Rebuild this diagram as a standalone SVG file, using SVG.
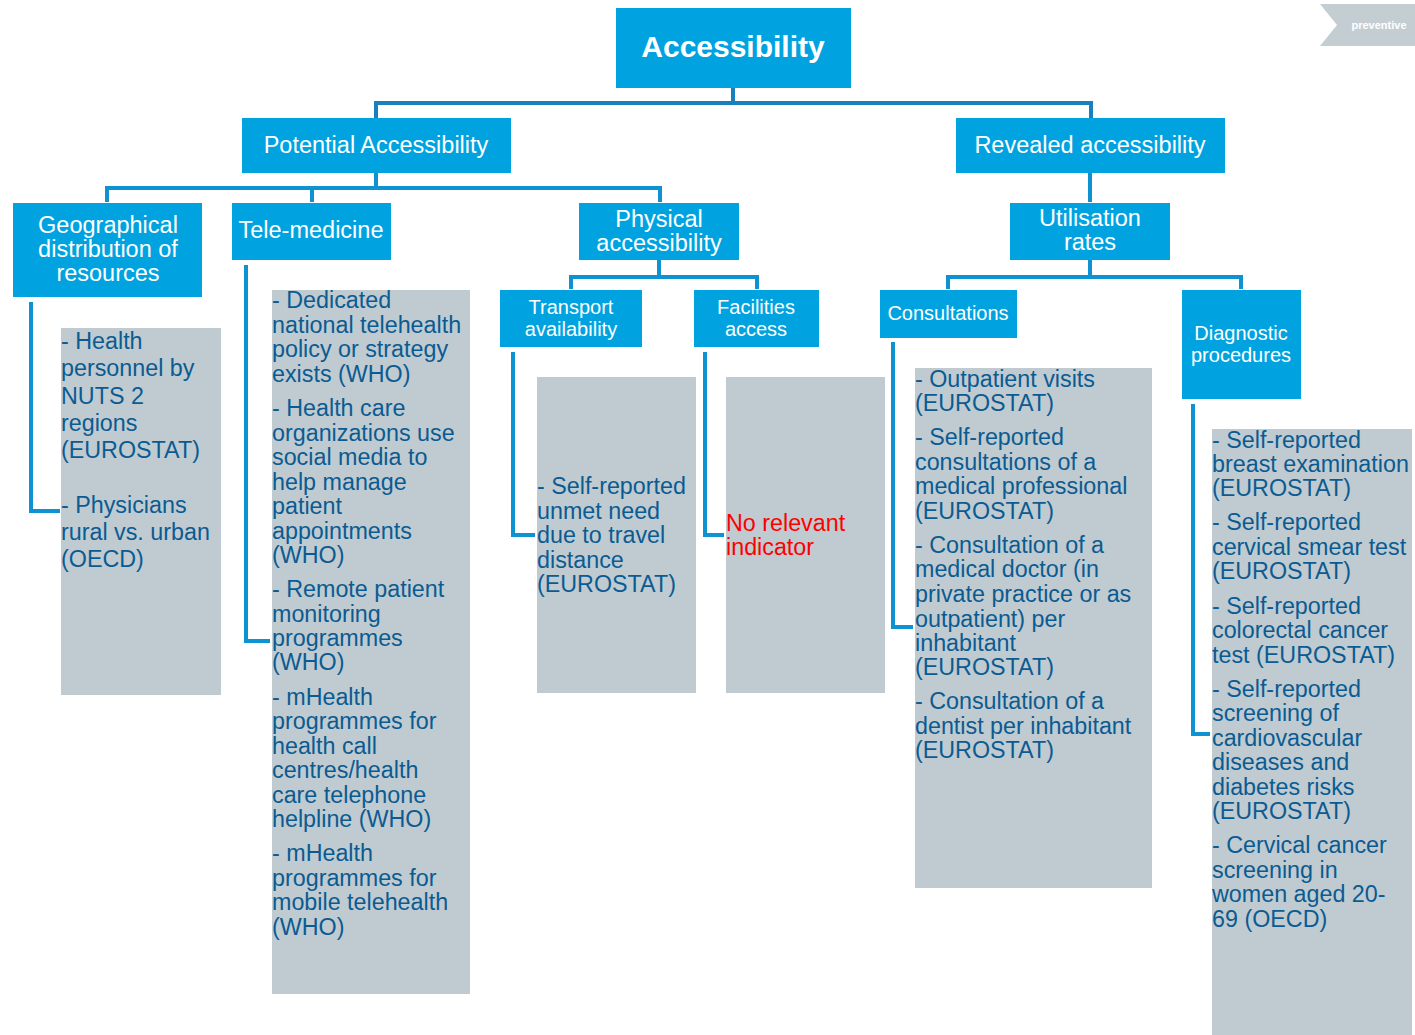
<svg xmlns="http://www.w3.org/2000/svg" width="1415" height="1035" viewBox="0 0 1415 1035">
<style>
.box{fill:#00a3e0;}
.lbl{font-family:"Liberation Sans",Arial,sans-serif;fill:#ffffff;text-anchor:middle;}
.l24{font-size:23.5px;}
.l20{font-size:20px;}
.grey{fill:#bfcbd0;}
.it{font-family:"Liberation Sans",Arial,sans-serif;font-size:23.3px;fill:#0b5b92;}
.red{fill:#ff0000;}
.con{fill:none;stroke:#0e92d2;stroke-width:4;}
.con0{stroke:#1a7fbd;}
</style>
<rect width="1415" height="1035" fill="#ffffff"/>

<g id="preventive">
<polygon points="1320,4 1415,4 1415,46 1320,46 1337,25" fill="#c4ced2"/>
<text x="1379" y="29" font-family="Liberation Sans,Arial,sans-serif" font-size="11" font-weight="bold" fill="#ffffff" text-anchor="middle">preventive</text>
</g>

<g id="connectors">
<path class="con con0" d="M733,88 V103 M376,118 V103 H1091 V118"/>
<path class="con" d="M376,173 V188 M107,202 V188 H660 V202 M312,188 V202"/>
<path class="con" d="M1090,173 V202"/>
<path class="con" d="M659,260 V277 M571,289 V277 H757 V289"/>
<path class="con" d="M1090,260 V277 M948,289 V277 H1241 V289"/>
<path class="con" d="M31,302 V511 H60"/>
<path class="con" d="M246,265 V641 H270"/>
<path class="con" d="M513,352 V535 H535"/>
<path class="con" d="M705,352 V535 H724"/>
<path class="con" d="M893,342 V627 H913"/>
<path class="con" d="M1193,404 V734 H1210"/>
</g>

<g id="accessibility">
<rect class="box" x="616" y="8" width="235" height="80"/>
<text class="lbl" x="733" y="57" font-size="30" font-weight="bold">Accessibility</text>
</g>
<g id="potential">
<rect class="box" x="242" y="118" width="269" height="55"/>
<text class="lbl l24" x="376" y="153">Potential Accessibility</text>
</g>
<g id="revealed">
<rect class="box" x="956" y="118" width="269" height="55"/>
<text class="lbl l24" x="1090" y="153">Revealed accessibility</text>
</g>
<g id="geographical">
<rect class="box" x="13" y="203" width="189" height="94"/>
<text class="lbl l24" x="108" y="233">Geographical</text>
<text class="lbl l24" x="108" y="257">distribution of</text>
<text class="lbl l24" x="108" y="281">resources</text>
</g>
<g id="telemedicine">
<rect class="box" x="232" y="203" width="159" height="57"/>
<text class="lbl l24" x="311" y="238">Tele-medicine</text>
</g>
<g id="physical">
<rect class="box" x="579" y="203" width="160" height="57"/>
<text class="lbl l24" x="659" y="227">Physical</text>
<text class="lbl l24" x="659" y="251">accessibility</text>
</g>
<g id="utilisation">
<rect class="box" x="1010" y="203" width="160" height="57"/>
<text class="lbl l24" x="1090" y="226">Utilisation</text>
<text class="lbl l24" x="1090" y="250">rates</text>
</g>
<g id="transport">
<rect class="box" x="500" y="290" width="142" height="57"/>
<text class="lbl l20" x="571" y="314">Transport</text>
<text class="lbl l20" x="571" y="336">availability</text>
</g>
<g id="facilities">
<rect class="box" x="694" y="290" width="125" height="57"/>
<text class="lbl l20" x="756" y="314">Facilities</text>
<text class="lbl l20" x="756" y="336">access</text>
</g>
<g id="consultations">
<rect class="box" x="880" y="290" width="137" height="48"/>
<text class="lbl l20" x="948" y="320">Consultations</text>
</g>
<g id="diagnostic">
<rect class="box" x="1182" y="290" width="119" height="109"/>
<text class="lbl l20" x="1241" y="340">Diagnostic</text>
<text class="lbl l20" x="1241" y="362">procedures</text>
</g>

<g id="geo-indicators">
<rect class="grey" x="61" y="328" width="160" height="367"/>
<text class="it" x="61" y="349">- Health</text>
<text class="it" x="61" y="376">personnel by</text>
<text class="it" x="61" y="404">NUTS 2</text>
<text class="it" x="61" y="431">regions</text>
<text class="it" x="61" y="458">(EUROSTAT)</text>
<text class="it" x="61" y="513">- Physicians</text>
<text class="it" x="61" y="540">rural vs. urban</text>
<text class="it" x="61" y="567">(OECD)</text>
</g>

<g id="tele-indicators">
<rect class="grey" x="272" y="290" width="198" height="704"/>
<text class="it" x="272" y="308">- Dedicated</text>
<text class="it" x="272" y="333">national telehealth</text>
<text class="it" x="272" y="357">policy or strategy</text>
<text class="it" x="272" y="382">exists (WHO)</text>
<text class="it" x="272" y="416">- Health care</text>
<text class="it" x="272" y="441">organizations use</text>
<text class="it" x="272" y="465">social media to</text>
<text class="it" x="272" y="490">help manage</text>
<text class="it" x="272" y="514">patient</text>
<text class="it" x="272" y="539">appointments</text>
<text class="it" x="272" y="563">(WHO)</text>
<text class="it" x="272" y="597">- Remote patient</text>
<text class="it" x="272" y="622">monitoring</text>
<text class="it" x="272" y="646">programmes</text>
<text class="it" x="272" y="670">(WHO)</text>
<text class="it" x="272" y="705">- mHealth</text>
<text class="it" x="272" y="729">programmes for</text>
<text class="it" x="272" y="754">health call</text>
<text class="it" x="272" y="778">centres/health</text>
<text class="it" x="272" y="803">care telephone</text>
<text class="it" x="272" y="827">helpline (WHO)</text>
<text class="it" x="272" y="861">- mHealth</text>
<text class="it" x="272" y="886">programmes for</text>
<text class="it" x="272" y="910">mobile telehealth</text>
<text class="it" x="272" y="935">(WHO)</text>
</g>

<g id="transport-indicators">
<rect class="grey" x="537" y="377" width="159" height="316"/>
<text class="it" x="537" y="494">- Self-reported</text>
<text class="it" x="537" y="519">unmet need</text>
<text class="it" x="537" y="543">due to travel</text>
<text class="it" x="537" y="568">distance</text>
<text class="it" x="537" y="592">(EUROSTAT)</text>
</g>

<g id="facilities-indicators">
<rect class="grey" x="726" y="377" width="159" height="316"/>
<text class="it red" x="726" y="531">No relevant</text>
<text class="it red" x="726" y="555">indicator</text>
</g>

<g id="consult-indicators">
<rect class="grey" x="915" y="368" width="237" height="520"/>
<text class="it" x="915" y="387">- Outpatient visits</text>
<text class="it" x="915" y="411">(EUROSTAT)</text>
<text class="it" x="915" y="445">- Self-reported</text>
<text class="it" x="915" y="470">consultations of a</text>
<text class="it" x="915" y="494">medical professional</text>
<text class="it" x="915" y="519">(EUROSTAT)</text>
<text class="it" x="915" y="553">- Consultation of a</text>
<text class="it" x="915" y="577">medical doctor (in</text>
<text class="it" x="915" y="602">private practice or as</text>
<text class="it" x="915" y="627">outpatient) per</text>
<text class="it" x="915" y="651">inhabitant</text>
<text class="it" x="915" y="675">(EUROSTAT)</text>
<text class="it" x="915" y="709">- Consultation of a</text>
<text class="it" x="915" y="734">dentist per inhabitant</text>
<text class="it" x="915" y="758">(EUROSTAT)</text>
</g>

<g id="diagnostic-indicators">
<rect class="grey" x="1212" y="429" width="200" height="606"/>
<text class="it" x="1212" y="448">- Self-reported</text>
<text class="it" x="1212" y="472">breast examination</text>
<text class="it" x="1212" y="496">(EUROSTAT)</text>
<text class="it" x="1212" y="530">- Self-reported</text>
<text class="it" x="1212" y="555">cervical smear test</text>
<text class="it" x="1212" y="579">(EUROSTAT)</text>
<text class="it" x="1212" y="614">- Self-reported</text>
<text class="it" x="1212" y="638">colorectal cancer</text>
<text class="it" x="1212" y="663">test (EUROSTAT)</text>
<text class="it" x="1212" y="697">- Self-reported</text>
<text class="it" x="1212" y="721">screening of</text>
<text class="it" x="1212" y="746">cardiovascular</text>
<text class="it" x="1212" y="770">diseases and</text>
<text class="it" x="1212" y="795">diabetes risks</text>
<text class="it" x="1212" y="819">(EUROSTAT)</text>
<text class="it" x="1212" y="853">- Cervical cancer</text>
<text class="it" x="1212" y="878">screening in</text>
<text class="it" x="1212" y="902">women aged 20-</text>
<text class="it" x="1212" y="927">69 (OECD)</text>
</g>
</svg>
